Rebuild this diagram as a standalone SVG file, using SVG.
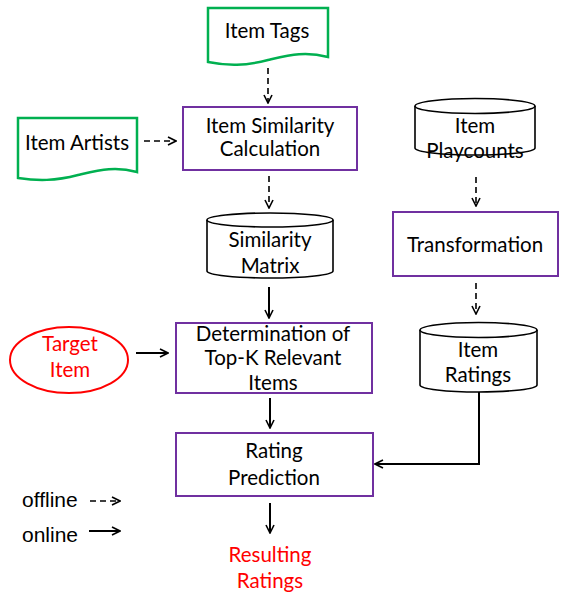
<svg xmlns="http://www.w3.org/2000/svg" width="582" height="600" viewBox="0 0 582 600">
<style>
.proc{fill:#fff;stroke:#7030A0;stroke-width:2}
.doc{fill:#fff;stroke:#00B050;stroke-width:2.5}
.cyl{fill:#fff;stroke:#000;stroke-width:1.6}
.ell{fill:#fff;stroke:#FF0000;stroke-width:2}
.t{font-family:Lato,"Liberation Sans",sans-serif;font-size:20.5px;fill:#000;text-anchor:middle}
.red{fill:#FF0000}
.leg{font-family:"Liberation Sans",Arial,sans-serif;font-size:21px;fill:#000}
.c{fill:none;stroke:#000;stroke-width:2}
.d{fill:none;stroke:#000;stroke-width:1.6;stroke-dasharray:6,4}
</style>
<defs>
<marker id="ah" viewBox="0 0 10 10" refX="9" refY="5" markerWidth="10" markerHeight="10" markerUnits="userSpaceOnUse" orient="auto">
<path d="M1,1 L9,5 L1,9" fill="none" stroke="#000" stroke-width="1.6" stroke-dasharray="none"/>
</marker>
</defs>
<rect width="582" height="600" fill="#fff"/>
<g id="connectors">
<path class="d" d="M268,68 V103" marker-end="url(#ah)"/>
<path class="d" d="M144,141 H176" marker-end="url(#ah)"/>
<path class="d" d="M269,176 V208" marker-end="url(#ah)"/>
<path class="d" d="M476,177 V206" marker-end="url(#ah)"/>
<path class="d" d="M476,283 V314" marker-end="url(#ah)"/>
<path class="c" d="M269,287 V318" marker-end="url(#ah)"/>
<path class="c" d="M136,353 H168" marker-end="url(#ah)"/>
<path class="c" d="M270,398 V428" marker-end="url(#ah)"/>
<path class="c" d="M270,503 V533" marker-end="url(#ah)"/>
<path class="c" d="M479,392 V464 H375" marker-end="url(#ah)"/>
</g>
<g id="item-tags">
<path class="doc" d="M208,8 H328 V57 C305,51 290,55 268,60 C245,66 228,66 208,62 Z"/>
<text class="t" x="267" y="38">Item Tags</text>
</g>
<g id="item-artists">
<path class="doc" d="M18,118 H137 V172 C115,166 100,170 78,175 C55,181 38,181 18,178 Z"/>
<text class="t" x="77" y="150">Item Artists</text>
</g>
<g id="item-similarity-calculation">
<rect class="proc" x="183" y="107" width="174" height="63"/>
<text class="t" x="270" y="133">Item Similarity</text>
<text class="t" x="270" y="156">Calculation</text>
</g>
<g id="item-playcounts">
<path class="cyl" d="M415,106 V148 A60,7 0 0 0 535,148 V106"/>
<ellipse class="cyl" cx="475" cy="106" rx="60" ry="7.5"/>
<text class="t" x="475" y="133">Item</text>
<text class="t" x="475" y="158">Playcounts</text>
</g>
<g id="similarity-matrix">
<path class="cyl" d="M207,220 V271 A63,7 0 0 0 333,271 V220"/>
<ellipse class="cyl" cx="270" cy="220" rx="63" ry="7"/>
<text class="t" x="270" y="247">Similarity</text>
<text class="t" x="270" y="273">Matrix</text>
</g>
<g id="transformation">
<rect class="proc" x="393" y="212" width="165" height="64"/>
<text class="t" x="475" y="252">Transformation</text>
</g>
<g id="item-ratings">
<path class="cyl" d="M420,330 V385 A58.5,7 0 0 0 537,385 V330"/>
<ellipse class="cyl" cx="478.5" cy="330" rx="58.5" ry="7.5"/>
<text class="t" x="478" y="357">Item</text>
<text class="t" x="478" y="382">Ratings</text>
</g>
<g id="target-item">
<ellipse class="ell" cx="69" cy="360" rx="59" ry="33"/>
<text class="t red" x="70" y="351">Target</text>
<text class="t red" x="70" y="377">Item</text>
</g>
<g id="determination">
<rect class="proc" x="176" y="323" width="196" height="70"/>
<text class="t" x="273" y="341">Determination of</text>
<text class="t" x="273" y="365">Top-K Relevant</text>
<text class="t" x="273" y="390">Items</text>
</g>
<g id="rating-prediction">
<rect class="proc" x="176" y="433" width="197" height="63"/>
<text class="t" x="274" y="458">Rating</text>
<text class="t" x="274" y="485">Prediction</text>
</g>
<g id="resulting-ratings">
<text class="t red" x="270" y="562">Resulting</text>
<text class="t red" x="270" y="588">Ratings</text>
</g>
<g id="legend">
<text class="leg" x="22" y="507">offline</text>
<path class="d" d="M90,501 H120" marker-end="url(#ah)"/>
<text class="leg" x="22" y="542">online</text>
<path class="c" d="M89,531 H120" marker-end="url(#ah)"/>
</g>
</svg>
